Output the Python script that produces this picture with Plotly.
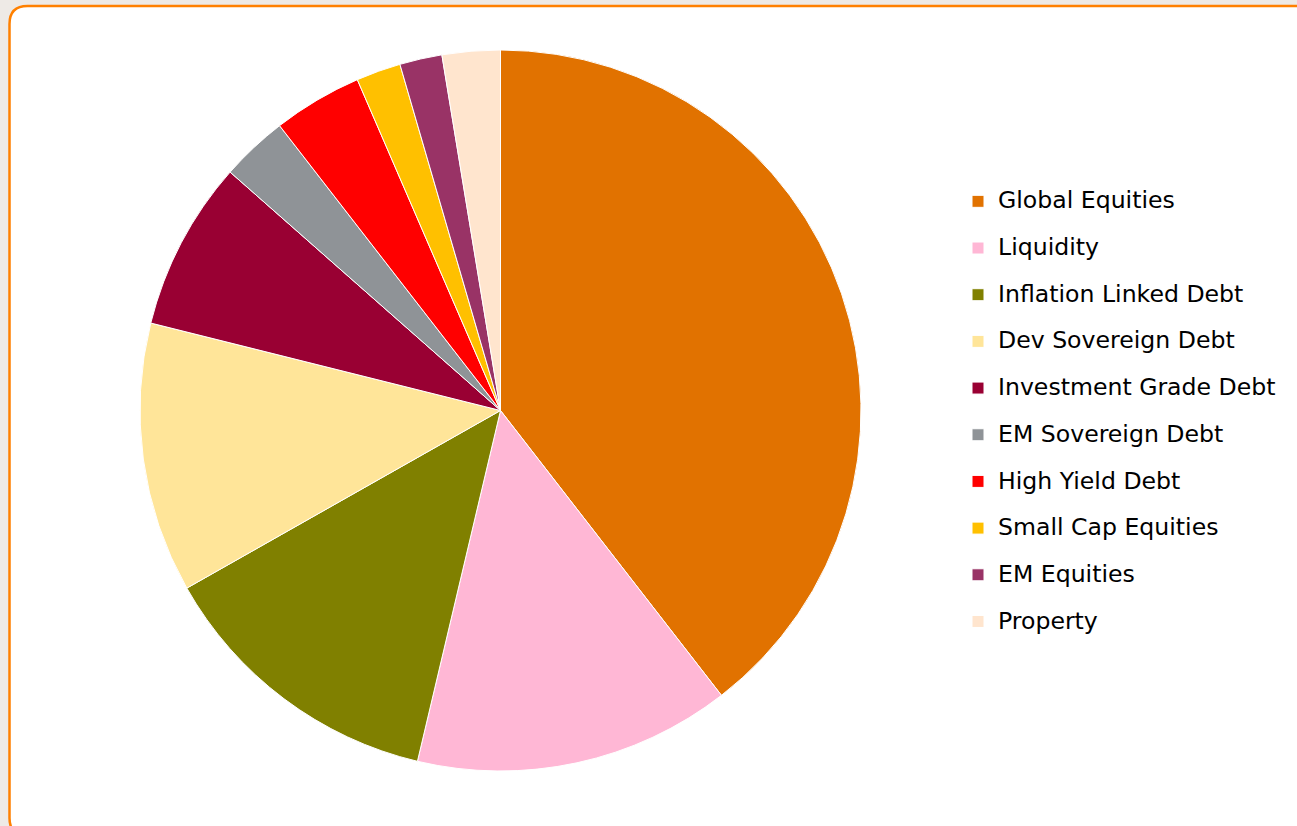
import plotly.graph_objects as go

W, H = 1297, 826

categories = ["Global Equities", "Liquidity", "Inflation Linked Debt", "Dev Sovereign Debt",
              "Investment Grade Debt", "EM Sovereign Debt", "High Yield Debt",
              "Small Cap Equities", "EM Equities", "Property"]
values = [39.5, 14.2, 13.1, 12.1, 7.6, 3.0, 4.0, 2.0, 1.9, 2.6]
colors = ["#E17200", "#FFB7D5", "#808000", "#FFE599", "#990033",
          "#8F9397", "#FF0000", "#FFC000", "#993366", "#FFE5CE"]

TEXT_PX = 23.6
legend_labels = [f'<span style="font-size:{TEXT_PX}px;baseline-shift:6px">{c}</span>' for c in categories]


def px(x, y):
    return x / W, 1 - y / H


def rounded_path(x0, y0, x1, y1, r):
    def P(x, y):
        a, b = px(x, y)
        return f"{a:.6f},{b:.6f}"
    pts = [
        f"M{P(x0, y1 - r)}",
        f"L{P(x0, y0 + r)}",
        f"Q{P(x0, y0)} {P(x0 + r, y0)}",
        f"L{P(x1, y0)}",
        f"L{P(x1, y1)}",
        f"L{P(x0 + r, y1)}",
        f"Q{P(x0, y1)} {P(x0, y1 - r)}",
        "Z",
    ]
    return " ".join(pts)


fig = go.Figure(go.Pie(
    labels=legend_labels,
    values=values,
    marker=dict(colors=colors, line=dict(color="white", width=1)),
    sort=False,
    direction="clockwise",
    rotation=0,
    textinfo="none",
    hoverinfo="label+percent",
    domain=dict(x=[140 / W, 861 / W], y=[1 - 771 / H, 1 - 50 / H]),
))

fig.update_layout(
    width=W, height=H,
    margin=dict(l=0, r=0, t=0, b=0),
    paper_bgcolor="#EEEAE6",
    plot_bgcolor="white",
    font=dict(family="DejaVu Sans", color="#000000"),
    showlegend=True,
    legend=dict(
        x=958 / W, xanchor="left",
        y=1 - 173 / H, yanchor="top",
        font=dict(size=33.6, family="DejaVu Sans", color="#000000"),
        bgcolor="rgba(0,0,0,0)",
        borderwidth=0,
        traceorder="normal",
    ),
    shapes=[dict(
        type="path", xref="paper", yref="paper",
        path=rounded_path(9.5, 6, 1320, 836, 18),
        fillcolor="white",
        line=dict(color="#FF8000", width=2.5),
        layer="below",
    )],
)

fig.write_html("out.html")
